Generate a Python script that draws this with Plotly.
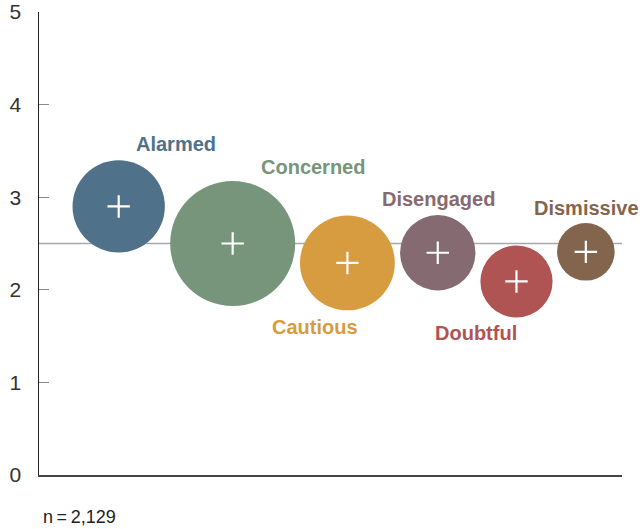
import plotly.graph_objects as go

segments = ["Alarmed", "Concerned", "Cautious", "Disengaged", "Doubtful", "Dismissive"]
x_pos = [1.367, 3.322, 5.29, 6.84, 8.19, 9.38]
y_vals = [2.90, 2.50, 2.29, 2.40, 2.09, 2.41]
share = [18, 33, 19, 12, 11, 7]
colors = ["#50718A", "#76957A", "#D79B40", "#866A72", "#B05353", "#83654E"]
label_shift = [(57, 62), (80, 77), (-32, -64), (1, 54), (-40, -52), (1, 44)]
reference = 2.5
y_ticks = [0, 1, 2, 3, 4, 5]
note = "n\u2009=\u20092,129"

max_d = 125
sizeref = 2 * max(share) / (max_d ** 2)

fig = go.Figure()
fig.add_trace(go.Scatter(
    x=x_pos, y=y_vals, mode="markers",
    marker=dict(size=share, sizemode="area", sizeref=sizeref, color=colors,
                opacity=1, line=dict(width=0)),
    hoverinfo="skip", showlegend=False, cliponaxis=False))
fig.add_trace(go.Scatter(
    x=x_pos, y=y_vals, mode="markers",
    marker=dict(symbol="cross-thin", size=16, line=dict(color="white", width=2.2)),
    hoverinfo="skip", showlegend=False, cliponaxis=False))

for name, x, y, c, (dx, dy) in zip(segments, x_pos, y_vals, colors, label_shift):
    fig.add_annotation(x=x, y=y, text=name, showarrow=False, xshift=dx, yshift=dy,
                       font=dict(family="Liberation Sans, Arial", size=20, color=c, weight="bold"))

fig.add_shape(type="line", xref="paper", yref="y", x0=0, x1=1, y0=reference, y1=reference,
              line=dict(color="#A8A8A8", width=1.5), layer="below")

fig.add_annotation(xref="paper", yref="paper", x=0.003, y=-0.091, xanchor="left", yanchor="middle",
                   text=note, showarrow=False,
                   font=dict(family="Liberation Sans, Arial", size=18, color="#222222"))

fig.update_layout(
    width=640, height=529,
    margin=dict(l=39, r=18, t=12, b=54, pad=0, autoexpand=False),
    paper_bgcolor="white", plot_bgcolor="white",
    xaxis=dict(range=[0, 10], showgrid=False, zeroline=False, showticklabels=False,
               ticks="", showline=True, linecolor="#444444", linewidth=1.5, automargin=False),
    yaxis=dict(range=[0, 5], tickvals=y_ticks, showgrid=False, zeroline=False,
               showline=True, linecolor="#222222", linewidth=1.5,
               ticks="inside", ticklen=10, tickcolor="#888888", tickwidth=1.2,
               ticklabelstandoff=12, automargin=False,
               tickfont=dict(family="Liberation Sans, Arial", size=21, color="#333333")),
    font=dict(family="Liberation Sans, Arial"),
)

fig.write_html("out.html", config={"displayModeBar": False, "staticPlot": True},
               post_script="document.body.style.margin='0';document.body.style.overflow='hidden';")
